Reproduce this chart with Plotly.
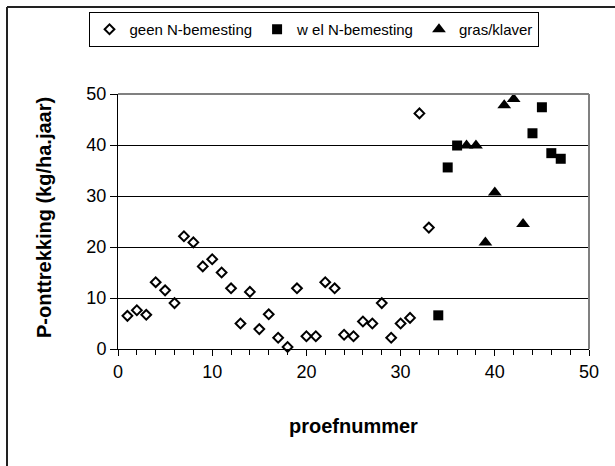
import plotly.graph_objects as go

# Data
geen_x = list(range(1, 34))
geen_y = [6.5, 7.6, 6.7, 13.1, 11.5, 9.0, 22.1, 20.9, 16.2, 17.6, 15.0, 11.9, 5.0,
          11.2, 3.9, 6.8, 2.2, 0.4, 11.9, 2.5, 2.5, 13.1, 11.9, 2.8, 2.5, 5.4, 5.0,
          9.0, 2.2, 5.0, 6.1, 46.2, 23.8]
wel_x = [34, 35, 36, 44, 45, 46, 47]
wel_y = [6.6, 35.6, 39.9, 42.3, 47.4, 38.4, 37.3]
gras_x = [37, 38, 39, 40, 41, 42, 43]
gras_y = [39.9, 39.9, 20.9, 30.7, 47.8, 49.0, 24.5]
x_ticks = [0, 10, 20, 30, 40, 50]
y_ticks = [0, 10, 20, 30, 40, 50]

FONT = "Liberation Sans, Arial, sans-serif"
W, H = 615, 466
L, R, T, B = 118, 589, 94, 349
PW, PH = R - L, B - T

def px(x):
    return (x - L) / PW

def py(y):
    return (B - y) / PH

fig = go.Figure()
fig.add_trace(go.Scatter(x=geen_x, y=geen_y, mode="markers", name="geen N-bemesting",
                         marker=dict(symbol="diamond-open", size=7.5, color="black",
                                     line=dict(width=2, color="black")),
                         cliponaxis=False))
fig.add_trace(go.Scatter(x=wel_x, y=wel_y, mode="markers", name="w el N-bemesting",
                         marker=dict(symbol="square", size=10, color="black"),
                         cliponaxis=False))
fig.add_trace(go.Scatter(x=gras_x, y=gras_y, mode="markers", name="gras/klaver",
                         marker=dict(symbol="triangle-up", size=12, color="black"),
                         cliponaxis=False))

fig.update_layout(
    width=W, height=H,
    margin=dict(l=L, r=W - R, t=T, b=H - B, autoexpand=False),
    paper_bgcolor="white", plot_bgcolor="white",
    font=dict(family=FONT, color="black", size=17),
    showlegend=True,
    legend=dict(orientation="h", x=px(313.5), xanchor="center", y=py(12), yanchor="top",
                bordercolor="black", borderwidth=1, bgcolor="white",
                font=dict(size=15, family=FONT), itemwidth=30,
                tracegroupgap=0, valign="middle"),
    xaxis=dict(range=[0, 50], tickvals=x_ticks, showgrid=False, zeroline=False,
               showline=True, linecolor="black", linewidth=1,
               ticks="outside", ticklen=6, tickcolor="black",
               minor=dict(dtick=2, ticks="outside", ticklen=5, tickcolor="black", showgrid=False),
               tickfont=dict(size=18, family=FONT)),
    yaxis=dict(range=[0, 50], tickvals=y_ticks, showgrid=True, gridcolor="black", gridwidth=1,
               zeroline=False, showline=True, linecolor="black", linewidth=1,
               ticks="outside", ticklen=7, tickcolor="black",
               tickfont=dict(size=18, family=FONT)),
    shapes=[
        dict(type="line", xref="paper", yref="paper", x0=0, x1=1, y0=1, y1=1,
             line=dict(color="#808080", width=2), layer="above"),
        dict(type="line", xref="paper", yref="paper", x0=1, x1=1, y0=0, y1=1,
             line=dict(color="#808080", width=2), layer="above"),
        # outer chart frame (cut off at right and bottom)
        dict(type="line", xref="paper", yref="paper",
             x0=px(7), x1=px(630), y0=py(7), y1=py(7),
             line=dict(color="#222222", width=2)),
        dict(type="line", xref="paper", yref="paper",
             x0=px(7), x1=px(7), y0=py(7), y1=py(480),
             line=dict(color="#222222", width=2)),
    ],
    annotations=[
        dict(text="<b>proefnummer</b>", xref="paper", yref="paper", x=0.5,
             y=py(426), xanchor="center", yanchor="middle", showarrow=False,
             font=dict(size=20, family=FONT)),
        dict(text="<b>P-onttrekking (kg/ha.jaar)</b>", xref="paper", yref="paper",
             x=px(44), y=py(218), xanchor="center", yanchor="middle", textangle=-90,
             showarrow=False, font=dict(size=20, family=FONT)),
    ],
)

fig.write_html("out.html")
